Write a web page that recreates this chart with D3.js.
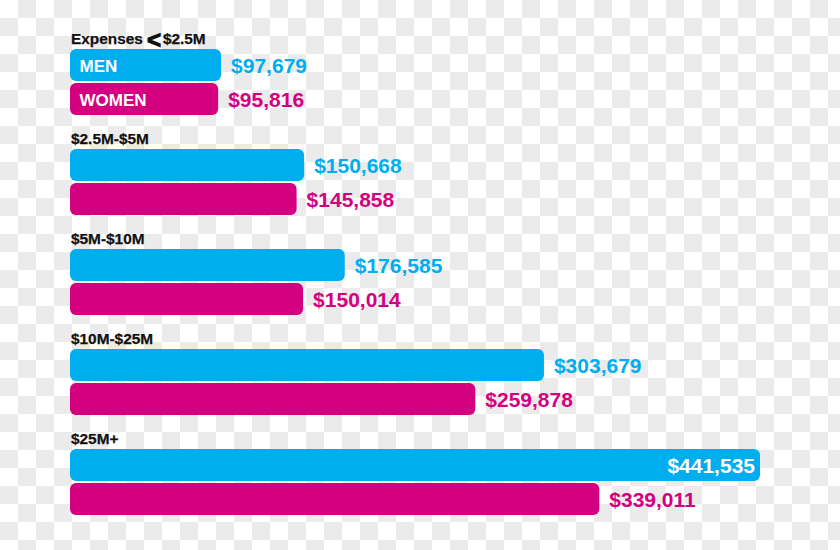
<!DOCTYPE html>
<html><head><meta charset="utf-8">
<script src="https://cdn.jsdelivr.net/npm/d3@7/dist/d3.min.js"></script>
<style>html,body{margin:0;padding:0;background:#fff;}svg{display:block;}</style>
</head><body>
<svg id="c" width="840" height="550"></svg>
<script>
const categories = ["Expenses < $2.5M", "$2.5M-$5M", "$5M-$10M", "$10M-$25M", "$25M+"];
const men = [97679, 150668, 176585, 303679, 441535];
const women = [95816, 145858, 150014, 259878, 339011];
const seriesNames = ["MEN", "WOMEN"];

const W = 840, H = 550;
const blue = "#00aeef", pink = "#d5007f";
const font = "'Liberation Sans', Arial, Helvetica, sans-serif";
const svg = d3.select("#c");

// transparent-style checkerboard background
const defs = svg.append("defs");
const pat = defs.append("pattern").attr("id", "chk").attr("width", 36).attr("height", 36)
  .attr("patternUnits", "userSpaceOnUse");
pat.append("rect").attr("width", 36).attr("height", 36).attr("fill", "#ffffff");
pat.append("rect").attr("x", 18).attr("y", 0).attr("width", 18).attr("height", 18).attr("fill", "#ebebeb");
pat.append("rect").attr("x", 0).attr("y", 18).attr("width", 18).attr("height", 18).attr("fill", "#ebebeb");
svg.append("rect").attr("width", W).attr("height", H).attr("fill", "url(#chk)");

const x = d3.scaleLinear().domain([0, d3.max(men)]).range([68, 760]);
const y = d3.scaleBand().domain(categories).range([30, 530]).paddingInner(0);
const barX = 70, barH = 32, r = 6;
const fmt = v => "$" + d3.format(",")(v);

const g = svg.selectAll("g.grp").data(categories).join("g").attr("class", "grp")
  .attr("transform", d => `translate(0,${y(d)})`);

// category labels
g.each(function(d, i) {
  const t = d3.select(this).append("text")
    .attr("x", 71).attr("y", 13.5)
    .attr("font-family", font).attr("font-weight", "bold").attr("font-size", 15.4)
    .attr("fill", "#111").attr("stroke", "#111").attr("stroke-width", 0.25);
  if (d.includes("<")) {
    const parts = d.split("<");
    t.append("tspan").text(parts[0].trim());
    t.append("tspan").attr("dx", 4).attr("font-size", 24).attr("dy", 4.5)
      .attr("stroke-width", 1.2).text("<");
    t.append("tspan").attr("dx", 2).attr("dy", -4.5).text(parts[1].trim());
  } else {
    t.text(d);
  }
});

const rows = [
  {vals: men, color: blue, off: 19},
  {vals: women, color: pink, off: 53}
];

rows.forEach((row, si) => {
  g.append("rect")
    .attr("x", barX).attr("y", row.off)
    .attr("width", (d, i) => x(row.vals[i]) - barX).attr("height", barH)
    .attr("rx", r).attr("ry", r).attr("fill", row.color);

  g.append("text")
    .attr("font-family", font).attr("font-weight", "bold").attr("font-size", 21)
    .attr("y", row.off + barH / 2 + 7.5)
    .attr("x", (d, i) => {
      const end = x(row.vals[i]);
      return end > 700 ? end - 5 : end + 10;
    })
    .attr("text-anchor", (d, i) => x(row.vals[i]) > 700 ? "end" : "start")
    .attr("fill", (d, i) => x(row.vals[i]) > 700 ? "#ffffff" : row.color)
    .text((d, i) => fmt(row.vals[i]));
});

// series names inside first group's bars
const first = d3.select(g.nodes()[0]);
seriesNames.forEach((name, si) => {
  first.append("text")
    .attr("x", 79.5).attr("y", rows[si].off + barH / 2 + 6.5)
    .attr("font-family", font).attr("font-weight", "bold").attr("font-size", 17)
    .attr("fill", "#ffffff").text(name);
});
</script>
</body></html>
